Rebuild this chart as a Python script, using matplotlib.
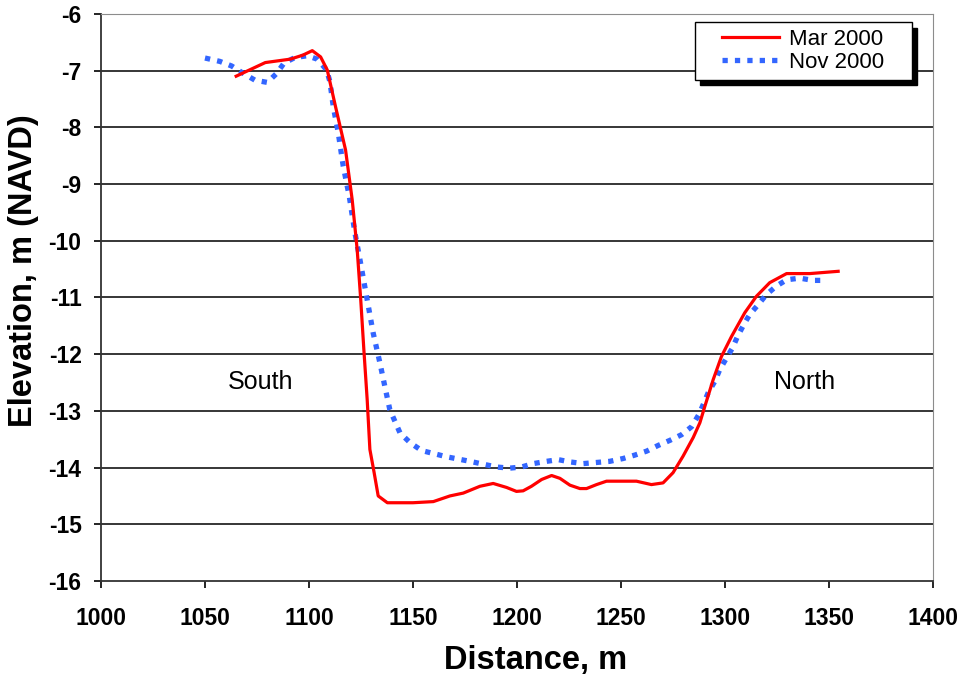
import matplotlib
matplotlib.use("Agg")
import matplotlib.pyplot as plt
from matplotlib.path import Path

# beach profile, Mar 2000 survey
mar_dist = [1065, 1079, 1091, 1097, 1101.6, 1105.6, 1108.8, 1112.8, 1117.6, 1120.8,
            1123.2, 1124.9, 1126.4, 1128.0, 1129.3, 1131.3, 1133.3, 1137.7, 1150,
            1159.8, 1167.8, 1174.2, 1182.2, 1188.6, 1195.0, 1199.8, 1203.0, 1207.0,
            1211.9, 1216.7, 1220.7, 1225.5, 1230.3, 1233.5, 1238.3, 1243.1, 1257.5,
            1264.7, 1270.3, 1275.1, 1279.9, 1284.8, 1288.0, 1290.4, 1294.4, 1298.4,
            1303.2, 1309.6, 1315.2, 1321.6, 1329.7, 1340.9, 1354.5]
mar_elev = [-7.10, -6.86, -6.80, -6.73, -6.65, -6.76, -6.99, -7.64, -8.40, -9.28,
            -10.16, -11.04, -11.92, -12.80, -13.68, -14.08, -14.50, -14.62, -14.62,
            -14.60, -14.50, -14.45, -14.33, -14.28, -14.35, -14.42, -14.41, -14.33,
            -14.21, -14.14, -14.19, -14.31, -14.37, -14.37, -14.30, -14.24, -14.24,
            -14.30, -14.27, -14.09, -13.80, -13.47, -13.21, -12.92, -12.45, -12.04,
            -11.69, -11.27, -10.98, -10.74, -10.58, -10.58, -10.54]

# Nov 2000 survey
nov_dist = [1050, 1057.2, 1062.8, 1068.4, 1074, 1080, 1084.5, 1088, 1093.3, 1099.2,
            1104, 1108.5, 1110.1, 1111.7, 1114.1, 1116.5, 1119.4, 1122.1, 1124.5,
            1127.7, 1130.9, 1134.1, 1136.5, 1138.9, 1143.8, 1148.6, 1154.2, 1166.2,
            1177.4, 1190.2, 1196.6, 1202.2, 1207.9, 1214.3, 1219.9, 1225.5, 1231.9,
            1238.3, 1244.7, 1251.1, 1256.7, 1262.4, 1267.9, 1273.6, 1279.2, 1284,
            1287.6, 1289.6, 1292, 1295.2, 1297.6, 1300.8, 1303.7, 1306.1, 1309.1,
            1312, 1316, 1320, 1324.8, 1329.7, 1336, 1342.5, 1348.9]
nov_elev = [-6.78, -6.84, -6.92, -7.05, -7.17, -7.21, -7.05, -6.87, -6.77, -6.74,
            -6.80, -6.99, -7.20, -7.64, -8.10, -8.69, -9.22, -9.86, -10.33,
            -10.98, -11.63, -12.15, -12.57, -12.98, -13.39, -13.56, -13.70, -13.81,
            -13.89, -13.99, -14.01, -13.99, -13.93, -13.89, -13.86, -13.90, -13.93,
            -13.91, -13.89, -13.84, -13.78, -13.71, -13.61, -13.52, -13.42, -13.28,
            -13.06, -12.89, -12.68, -12.48, -12.27, -12.07, -11.89, -11.69, -11.48,
            -11.30, -11.13, -10.95, -10.80, -10.69, -10.66, -10.70, -10.70]

x_ticks = [1000, 1050, 1100, 1150, 1200, 1250, 1300, 1350, 1400]
y_ticks = [-16, -15, -14, -13, -12, -11, -10, -9, -8, -7, -6]


def wide_square(x0, y0, width, height, mutation_size):
    # legend frame with extra room left and right, like the Excel one
    dx = 0.95 * mutation_size
    x1, y1 = x0 + width + dx, y0 + height
    x0 = x0 - dx
    return Path([(x0, y0), (x1, y0), (x1, y1), (x0, y1), (x0, y0)], closed=True)


def main():
    plt.rcParams['font.family'] = ['Liberation Sans', 'DejaVu Sans']
    plt.rcParams['axes.unicode_minus'] = False

    fig = plt.figure(figsize=(9.63, 6.79), dpi=100)
    ax = fig.add_axes([0.1049, 0.1443, 0.8637, 0.8354])

    for y in y_ticks[1:-1]:
        ax.axhline(y, color='black', lw=1.1, zorder=1)

    ax.plot(mar_dist, mar_elev, color='#ff0000', lw=2.3, label='Mar 2000', zorder=3)
    ax.plot(nov_dist, nov_elev, color='#3366ff', lw=3.8, linestyle=(0, (1, 1.35)),
            dash_capstyle='butt', label='Nov 2000', zorder=2)

    ax.set_xlim(1000, 1400)
    ax.set_ylim(-16, -6)
    ax.set_xticks(x_ticks)
    ax.set_yticks(y_ticks)
    ax.tick_params(axis='both', direction='out', length=5, width=1.2,
                   labelsize=16.5)
    ax.tick_params(axis='x', pad=14)
    ax.tick_params(axis='y', pad=9)
    for lbl in ax.get_xticklabels() + ax.get_yticklabels():
        lbl.set_fontweight('bold')

    ax.spines['left'].set_color('#333333')
    ax.spines['bottom'].set_color('#333333')
    ax.spines['left'].set_linewidth(1.3)
    ax.spines['bottom'].set_linewidth(1.3)
    ax.spines['top'].set_color('#8c8c8c')
    ax.spines['right'].set_color('#8c8c8c')

    ax.set_xlabel('Distance, m', fontsize=23.5, fontweight='bold')
    ax.set_ylabel('Elevation, m (NAVD)', fontsize=23.5, fontweight='bold')
    ax.xaxis.set_label_coords(0.523, -0.112)
    ax.yaxis.set_label_coords(-0.075, 0.547)

    ax.text(1076.5, -12.5, 'South', fontsize=18, ha='center', va='center')
    ax.text(1338.5, -12.5, 'North', fontsize=18, ha='center', va='center')

    leg = ax.legend(loc='upper right', bbox_to_anchor=(0.9495, 0.985), fontsize=16,
                    frameon=True, fancybox=False, edgecolor='black', framealpha=1,
                    shadow={'color': 'black', 'alpha': 1, 'ox': 4, 'oy': -4},
                    handlelength=2.55, handletextpad=0.45, borderpad=0.3,
                    labelspacing=0.1, borderaxespad=0)
    leg.get_frame().set_linewidth(1.0)
    leg.get_frame().set_boxstyle(wide_square)

    fig.savefig('out.png', dpi=100)


if __name__ == "__main__":
    main()
